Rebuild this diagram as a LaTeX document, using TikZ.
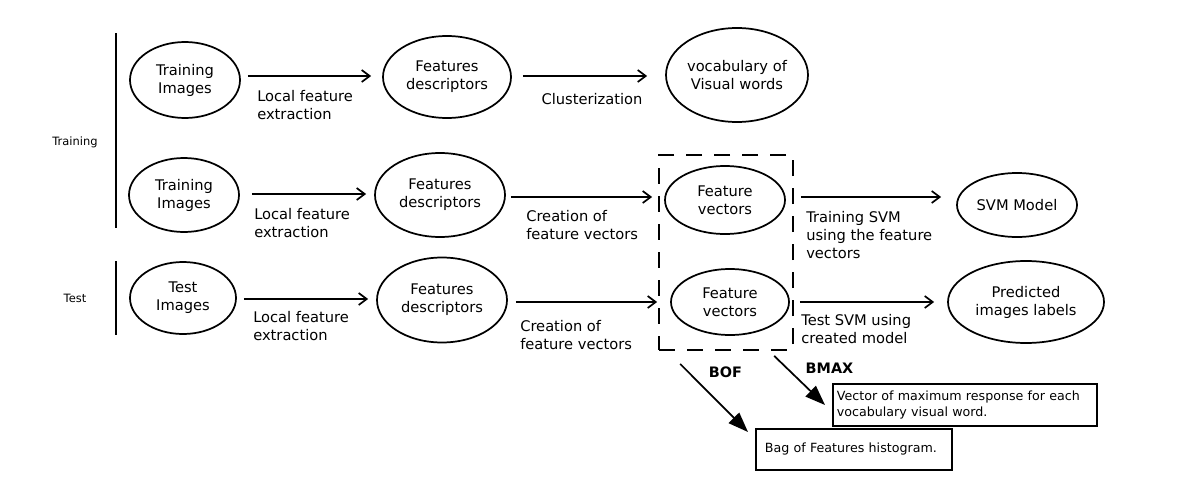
\documentclass[tikz,border=0pt]{standalone}
\usepackage{fontspec}
\setmainfont{DejaVu Sans}
\usetikzlibrary{shapes.geometric,arrows.meta,calc}
\tikzset{
  ell/.style={ellipse, draw, line width=1.3pt, inner sep=0pt, align=center,
    font=\fontsize{11}{13.5}\selectfont},
  lbl/.style={anchor=west, inner sep=0pt, align=left,
    font=\fontsize{11}{13.8}\selectfont},
  arr/.style={line width=1.3pt, -{Straight Barb[length=6pt,width=9pt,line width=1.3pt]}},
  bigarr/.style={line width=1.3pt, -{Triangle[length=15pt,width=11pt]}},
  side/.style={font=\fontsize{8.6}{10}\selectfont, inner sep=0pt},
  note/.style={draw, line width=1.3pt, anchor=north west, align=left,
    font=\fontsize{9.5}{12}\selectfont, inner ysep=0pt},
  bold/.style={font=\bfseries\fontsize{10.8}{13}\selectfont, inner sep=0pt}
}
\begin{document}
\begin{tikzpicture}[x=0.75pt,y=-0.75pt]
\useasboundingbox (0,0) rectangle (1181,489);

% group bars and labels
\draw[line width=1.3pt] (116,33) -- (116,228);
\draw[line width=1.3pt] (116,261) -- (116,335);
\node[side] (trn) at (75,142) {Training};
\node[side] (tst) at (75,298) {Test};

% row 1
\node[ell, minimum width=82.5pt, minimum height=57pt] (ti1) at (185,80) {Training\\Images};
\node[ell, minimum width=96pt, minimum height=61.5pt] (fd1) at (447,77) {Features\\descriptors};
\node[ell, minimum width=106.5pt, minimum height=70.5pt] (voc) at (737,75) {vocabulary of\\Visual words};
\draw[arr] ($(ti1.east)+(7,-4)$) -- ($(fd1.west)+(-11,-1)$);
\draw[arr] ($(fd1.east)+(11,-1)$) -- ($(voc.west)+(-18,1)$);
\node[lbl] (l1) at (257,105) {Local feature\\extraction};
\node[inner sep=0pt, font=\fontsize{11}{13.5}\selectfont] (c1) at (592,99) {Clusterization};

% row 2
\node[ell, minimum width=82.5pt, minimum height=55.5pt] (ti2) at (184,195) {Training\\Images};
\node[ell, minimum width=97.5pt, minimum height=63pt] (fd2) at (440,195) {Features\\descriptors};
\node[ell, minimum width=90pt, minimum height=51pt] (fv2) at (725,200) {Feature\\vectors};
\node[ell, minimum width=90pt, minimum height=48pt] (svm) at (1017,205) {SVM Model};
\draw[arr] ($(ti2.east)+(12,-1)$) -- ($(fd2.west)+(-8,-1)$);
\draw[arr] ($(fd2.east)+(5,2)$) -- ($(fv2.west)+(-12,-3)$);
\draw[arr] ($(fv2.east)+(15,-3)$) -- ($(svm.west)+(-15,-8)$);
\node[lbl] (l2) at (254,223) {Local feature\\extraction};
\node[lbl] (c2) at (526,225) {Creation of\\feature vectors};
\node[lbl] (t2) at (806,235) {Training SVM\\using the feature\\vectors};

% row 3
\node[ell, minimum width=79.5pt, minimum height=54pt] (te3) at (183,298) {Test\\Images};
\node[ell, minimum width=97.5pt, minimum height=63.75pt] (fd3) at (442,300) {Features\\descriptors};
\node[ell, minimum width=88.5pt, minimum height=49.5pt] (fv3) at (730,302) {Feature\\vectors};
\node[ell, minimum width=117pt, minimum height=61.5pt] (pred) at (1026,302) {Predicted\\images labels};
\draw[arr] ($(te3.east)+(7,1)$) -- ($(fd3.west)+(-8,-1)$);
\draw[arr] ($(fd3.east)+(8,2)$) -- ($(fv3.west)+(-13,0)$);
\draw[arr] ($(fv3.east)+(10,0)$) -- ($(pred.west)+(-13,0)$);
\node[lbl] (l3) at (253,326) {Local feature\\extraction};
\node[lbl] (c3) at (520,335) {Creation of\\feature vectors};
\node[lbl] (t3) at (801,329) {Test SVM using\\created model};

% dashed group of feature vectors
\node[draw, line width=1.3pt, dash pattern=on 12pt off 9pt, minimum width=100.5pt, minimum height=146.25pt, inner sep=0pt] (vecbox) at (726,252.5) {};

% BOF / BMAX
\node[note, text width=192pt, inner xsep=3pt, minimum height=31.5pt] (bmaxb) at (832,383) {Vector of maximum response for each\\vocabulary visual word.};
\node[note, text width=133.5pt, inner xsep=6.75pt, minimum height=30.75pt] (bofb) at (755,428) {Bag of Features histogram.};
\draw[bigarr] ($(vecbox.south west)+(22,13)$) -- ($(bofb.north west)+(-7,4)$);
\draw[bigarr] ($(vecbox.south west)+(116,5)$) -- ($(bmaxb.north west)+(-7,22)$);
\node[bold] (bof) at (725.5,372) {BOF};
\node[bold] (bmax) at (829.5,368) {BMAX};
\end{tikzpicture}
\end{document}
